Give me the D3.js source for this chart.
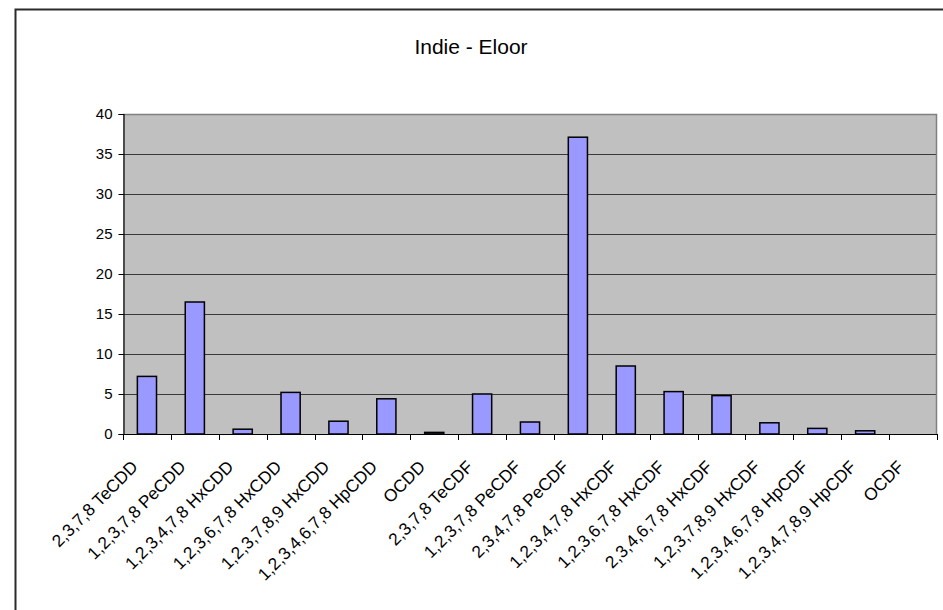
<!DOCTYPE html>
<html>
<head>
<meta charset="utf-8">
<script src="https://cdn.jsdelivr.net/npm/d3@7"></script>
<style>
  html, body { margin: 0; padding: 0; background: #ffffff; }
  svg { display: block; }
  text { font-family: Arial, "Liberation Sans", sans-serif; fill: #000; }
</style>
</head>
<body>
<svg id="chart" width="943" height="610"></svg>
<script>
// Congener names along the category axis
const categories = [
  "2,3,7,8 TeCDD", "1,2,3,7,8 PeCDD", "1,2,3,4,7,8 HxCDD", "1,2,3,6,7,8 HxCDD",
  "1,2,3,7,8,9 HxCDD", "1,2,3,4,6,7,8 HpCDD", "OCDD", "2,3,7,8 TeCDF",
  "1,2,3,7,8 PeCDF", "2,3,4,7,8 PeCDF", "1,2,3,4,7,8 HxCDF", "1,2,3,6,7,8 HxCDF",
  "2,3,4,6,7,8 HxCDF", "1,2,3,7,8,9 HxCDF", "1,2,3,4,6,7,8 HpCDF", "1,2,3,4,7,8,9 HpCDF",
  "OCDF"
];
// Measured value for each congener
const values = [7.2, 16.5, 0.6, 5.2, 1.6, 4.4, 0.2, 5.0, 1.5, 37.1, 8.5, 5.3, 4.8, 1.4, 0.7, 0.4, 0];
// Value axis ticks
const yTicks = [0, 5, 10, 15, 20, 25, 30, 35, 40];
const title = "Indie - Eloor";

const svg = d3.select("#chart");
const plot = { left: 123, right: 937, top: 114, bottom: 434 };

// Outer chart frame
svg.append("rect")
  .attr("x", 15.5).attr("y", 9.5)
  .attr("width", 1000).attr("height", 700)
  .attr("fill", "none").attr("stroke", "#2b2b2b").attr("stroke-width", 2);

svg.append("text")
  .attr("x", 471).attr("y", 54)
  .attr("text-anchor", "middle")
  .style("font-size", "21px")
  .text(title);

const x = d3.scaleBand()
  .domain(categories)
  .range([plot.left, plot.right])
  .paddingInner(0.6)
  .paddingOuter(0.3);

const y = d3.scaleLinear()
  .domain([0, 40])
  .range([plot.bottom, plot.top]);

// Plot background
svg.append("rect")
  .attr("x", plot.left).attr("y", plot.top)
  .attr("width", plot.right - plot.left).attr("height", plot.bottom - plot.top)
  .attr("fill", "#c0c0c0");

// Horizontal gridlines
svg.append("g")
  .selectAll("line")
  .data(yTicks.filter(t => t > 0 && t < 40))
  .join("line")
  .attr("x1", plot.left).attr("x2", plot.right)
  .attr("y1", d => Math.round(y(d)) + 0.5).attr("y2", d => Math.round(y(d)) + 0.5)
  .attr("stroke", "#3a3a3a").attr("stroke-width", 1);

// Plot area top and right edges
svg.append("path")
  .attr("d", `M${plot.left},${plot.top + 0.5}H${plot.right - 0.5}V${plot.bottom}`)
  .attr("fill", "none").attr("stroke", "#808080").attr("stroke-width", 1.5);

// Bars
svg.append("g")
  .selectAll("rect")
  .data(values)
  .join("rect")
  .attr("x", (d, i) => x(categories[i]))
  .attr("y", d => y(d))
  .attr("width", x.bandwidth())
  .attr("height", d => y(0) - y(d))
  .attr("fill", "#9999ff")
  .attr("stroke", "#000")
  .attr("stroke-width", 1.5);

// Value axis
const yAxis = d3.axisLeft(y)
  .tickValues(yTicks)
  .tickSize(5)
  .tickPadding(6)
  .tickFormat(d3.format("d"));
const gy = svg.append("g")
  .attr("transform", `translate(${plot.left + 0.5},0)`)
  .call(yAxis);
gy.select(".domain").attr("stroke", "#000").attr("stroke-width", 1.2);
gy.selectAll(".tick line").attr("stroke", "#000");
gy.selectAll(".tick text")
  .style("font-size", "15px")
  .attr("font-family", null);

// Category axis baseline and tick marks at band boundaries
const step = x.step();
const boundaries = d3.range(categories.length + 1).map(i => plot.left + i * step);
svg.append("line")
  .attr("x1", plot.left).attr("x2", plot.right)
  .attr("y1", plot.bottom + 0.5).attr("y2", plot.bottom + 0.5)
  .attr("stroke", "#000").attr("stroke-width", 1.2);
svg.append("g")
  .selectAll("line")
  .data(boundaries)
  .join("line")
  .attr("x1", d => Math.round(d) + 0.5).attr("x2", d => Math.round(d) + 0.5)
  .attr("y1", plot.bottom).attr("y2", plot.bottom + 6)
  .attr("stroke", "#000");

// Rotated category labels
svg.append("g")
  .selectAll("text")
  .data(categories)
  .join("text")
  .attr("transform", d => `translate(${x(d) + x.bandwidth() / 2 - 8},${plot.bottom + 34}) rotate(-45)`)
  .attr("text-anchor", "end")
  .style("font-size", "17.3px")
  .text(d => d);
</script>
</body>
</html>
